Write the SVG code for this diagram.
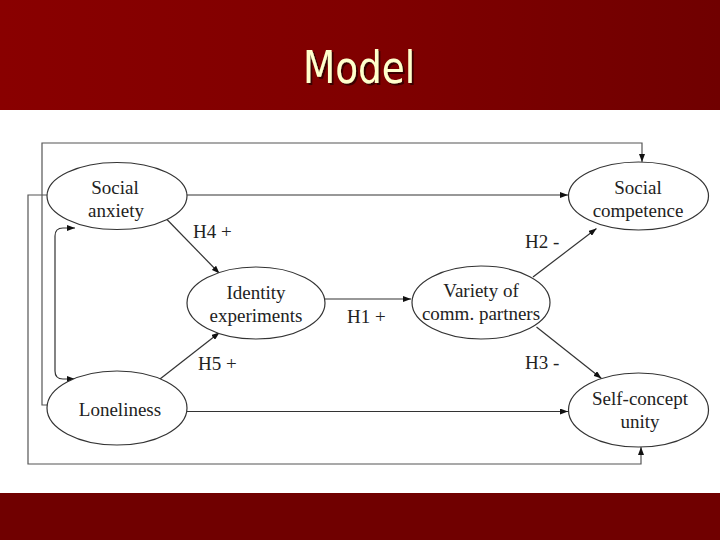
<svg xmlns="http://www.w3.org/2000/svg" width="720" height="540" viewBox="0 0 720 540">
  <defs>
    <linearGradient id="bar" x1="0" y1="0" x2="1" y2="0">
      <stop offset="0" stop-color="#890000"/>
      <stop offset="0.5" stop-color="#800000"/>
      <stop offset="1" stop-color="#700000"/>
    </linearGradient>
    <filter id="shadow" x="-10%" y="-10%" width="130%" height="130%">
      <feDropShadow dx="2" dy="2" stdDeviation="0.6" flood-color="#2a0000" flood-opacity="0.8"/>
    </filter>
    <marker id="ah" viewBox="0 0 8 6" refX="8" refY="3" markerWidth="8" markerHeight="6" markerUnits="userSpaceOnUse" orient="auto-start-reverse">
      <path d="M0,0 L8,3 L0,6 z" fill="#111"/>
    </marker>
    <style>
      .node ellipse { fill: #fff; stroke: #333; stroke-width: 1.2; }
      .lbl { font-family: "Liberation Serif", "Times New Roman", serif; font-size: 19px; fill: #222; text-anchor: middle; }
      .hl { font-family: "Liberation Serif", "Times New Roman", serif; font-size: 19px; fill: #222; }
      .edge { fill: none; stroke: #333; stroke-width: 1.2; marker-end: url(#ah); }
      .outer { fill: none; stroke: #555; stroke-width: 1.2; marker-end: url(#ah); }
    </style>
  </defs>

  <rect x="0" y="0" width="720" height="540" fill="#fff"/>
  <rect x="0" y="0" width="720" height="110" fill="url(#bar)"/>
  <rect x="0" y="493" width="720" height="47" fill="#700000"/>
  <text x="359" y="83" font-family="'DejaVu Sans Condensed', 'DejaVu Sans', sans-serif" font-size="44" fill="#ffffcc" text-anchor="middle" textLength="112" lengthAdjust="spacingAndGlyphs" filter="url(#shadow)">Model</text>

  <g id="connectors">
    <path class="outer" d="M48,405 L42,405 L42,143 L642,143 L642,162"/>
    <path class="outer" d="M48,195 L28,195 L28,464 L641,464 L641,447"/>
    <path class="edge" d="M75,228 L63,228 Q55,228 55,236 L55,371 Q55,379 63,379 L75,379" marker-start="url(#ah)"/>
    <path class="edge" d="M187,195 L568,195"/>
    <path class="edge" d="M187,411.5 L568,411.5"/>
    <path class="edge" d="M325,299 L411,299"/>
    <path class="edge" d="M166.5,219 L219.5,273.5"/>
    <path class="edge" d="M160,379 L219.5,332.5"/>
    <path class="edge" d="M533,277 L596.5,228.5"/>
    <path class="edge" d="M536.5,327 L601.5,378.5"/>
  </g>

  <g id="social-anxiety" class="node">
    <ellipse cx="117" cy="196" rx="70" ry="33.5"/>
    <text class="lbl" x="115" y="193.5">Social</text>
    <text class="lbl" x="116" y="217">anxiety</text>
  </g>
  <g id="social-competence" class="node">
    <ellipse cx="638.5" cy="196" rx="70" ry="34"/>
    <text class="lbl" x="638" y="194">Social</text>
    <text class="lbl" x="638" y="217">competence</text>
  </g>
  <g id="identity-experiments" class="node">
    <ellipse cx="256" cy="303" rx="69" ry="36"/>
    <text class="lbl" x="256" y="298.5">Identity</text>
    <text class="lbl" x="256" y="322">experiments</text>
  </g>
  <g id="variety" class="node">
    <ellipse cx="481" cy="302.5" rx="69" ry="36.5"/>
    <text class="lbl" x="481" y="297">Variety of</text>
    <text class="lbl" x="481" y="320">comm. partners</text>
  </g>
  <g id="loneliness" class="node">
    <ellipse cx="117" cy="408" rx="70" ry="37"/>
    <text class="lbl" x="120" y="416">Loneliness</text>
  </g>
  <g id="self-concept-unity" class="node">
    <ellipse cx="638.5" cy="410" rx="70" ry="37"/>
    <text class="lbl" x="640" y="404.5">Self-concept</text>
    <text class="lbl" x="640" y="428">unity</text>
  </g>

  <g id="labels">
    <text class="hl" x="193" y="237.5">H4 +</text>
    <text class="hl" x="198" y="370">H5 +</text>
    <text class="hl" x="347" y="322.5">H1 +</text>
    <text class="hl" x="525" y="248">H2 -</text>
    <text class="hl" x="525" y="368.5">H3 -</text>
  </g>
</svg>
